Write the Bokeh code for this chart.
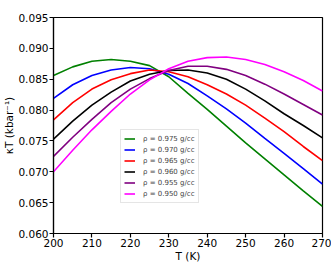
from bokeh.plotting import figure
from bokeh.models import Range1d, FixedTicker, PrintfTickFormatter, Legend, LegendItem
from bokeh.embed import file_html
from bokeh.resources import INLINE

# Data
T = [200, 205, 210, 215, 220, 225, 230, 235, 240, 245, 250, 255, 260, 265, 270]
rho_labels = ["ρ = 0.975 g/cc", "ρ = 0.970 g/cc", "ρ = 0.965 g/cc",
              "ρ = 0.960 g/cc", "ρ = 0.955 g/cc", "ρ = 0.950 g/cc"]
k_0975 = [0.0856, 0.0870, 0.0879, 0.0882, 0.0879, 0.0872, 0.0854, 0.0827, 0.0801, 0.0774, 0.0747, 0.0721, 0.0695, 0.0669, 0.0644]
k_0970 = [0.0819, 0.0841, 0.0856, 0.0865, 0.0869, 0.0867, 0.0858, 0.0843, 0.0823, 0.0802, 0.0779, 0.0754, 0.0730, 0.0705, 0.0680]
k_0965 = [0.0784, 0.0812, 0.0834, 0.0849, 0.0859, 0.0865, 0.0862, 0.0854, 0.0841, 0.0826, 0.0808, 0.0787, 0.0765, 0.0741, 0.0718]
k_0960 = [0.0753, 0.0782, 0.0808, 0.0829, 0.0847, 0.0858, 0.0864, 0.0865, 0.0860, 0.0850, 0.0834, 0.0815, 0.0794, 0.0775, 0.0755]
k_0955 = [0.0725, 0.0756, 0.0785, 0.0812, 0.0834, 0.0851, 0.0864, 0.0871, 0.0871, 0.0866, 0.0856, 0.0842, 0.0826, 0.0809, 0.0792]
k_0950 = [0.0700, 0.0735, 0.0768, 0.0798, 0.0826, 0.0849, 0.0867, 0.0879, 0.0885, 0.0886, 0.0882, 0.0874, 0.0862, 0.0848, 0.0831]
series = [k_0975, k_0970, k_0965, k_0960, k_0955, k_0950]
colors = ["green", "blue", "red", "black", "purple", "magenta"]
x_ticks = [200, 210, 220, 230, 240, 250, 260, 270]
y_ticks = [0.060, 0.065, 0.070, 0.075, 0.080, 0.085, 0.090, 0.095]

FONT = "DejaVu Sans"

p = figure(frame_width=269, frame_height=216, output_backend="svg", toolbar_location=None,
           x_range=Range1d(200, 270), y_range=Range1d(0.060, 0.095),
           min_border_top=17, min_border_right=9, min_border_left=46, min_border_bottom=30)
p.grid.visible = False
p.outline_line_color = "black"
p.outline_line_width = 1.2
p.background_fill_color = "white"

items = []
for ys, c, lab in zip(series, colors, rho_labels):
    r = p.line(T, ys, line_color=c, line_width=1.6)
    items.append(LegendItem(label=lab, renderers=[r]))

for ax in (p.xaxis[0], p.yaxis[0]):
    ax.axis_line_width = 1.2
    ax.major_tick_line_width = 1.2
    ax.major_tick_out = 4
    ax.major_tick_in = 0
    ax.minor_tick_line_color = None
    ax.major_label_text_font = FONT
    ax.major_label_text_font_size = "10.5px"
    ax.major_label_text_color = "black"
    ax.axis_label_text_font = FONT
    ax.axis_label_text_font_size = "10.5px"
    ax.axis_label_text_font_style = "normal"
    ax.axis_label_text_color = "black"
    ax.major_label_standoff = 1
    ax.axis_label_standoff = 0

p.xaxis.ticker = FixedTicker(ticks=x_ticks)
p.yaxis.ticker = FixedTicker(ticks=y_ticks)
p.yaxis.formatter = PrintfTickFormatter(format="%.3f")
p.xaxis.axis_label = "T (K)"
p.yaxis.axis_label = "κT (kbar⁻¹)"

legend = Legend(items=items, location=(67, 30))
legend.label_text_font = FONT
legend.label_text_font_size = "7px"
legend.label_height = 11
legend.glyph_height = 11
legend.glyph_width = 11
legend.label_standoff = 8
legend.spacing = 0
legend.padding = 3
legend.margin = 0
legend.border_line_color = "#cccccc"
legend.border_line_width = 1
legend.background_fill_alpha = 0.8
p.add_layout(legend, "center")

open("out.html", "w").write(file_html(p, INLINE))
